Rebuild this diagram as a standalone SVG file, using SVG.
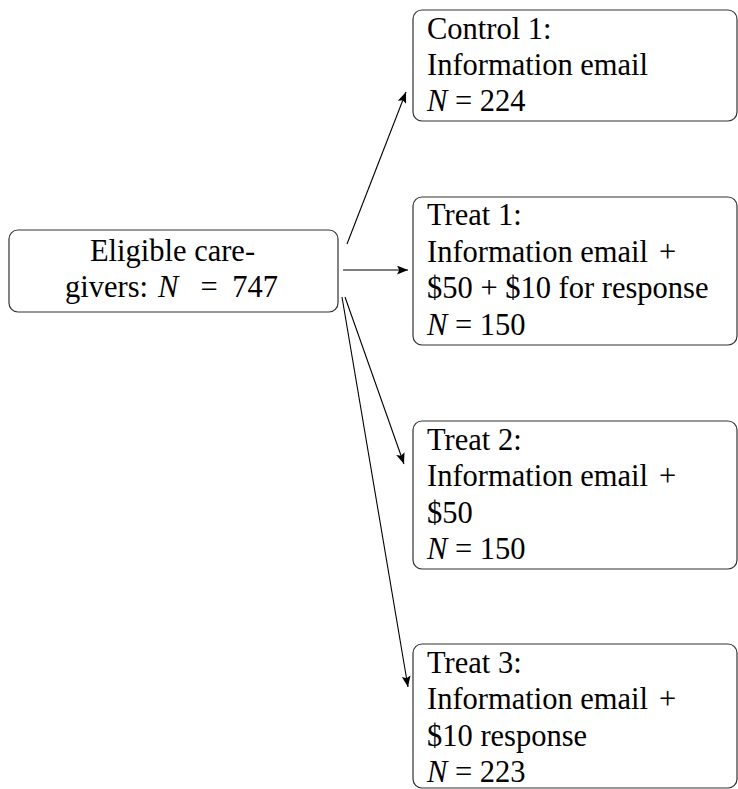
<svg xmlns="http://www.w3.org/2000/svg" width="738" height="789" viewBox="0 0 738 789">
<defs>
<marker id="ah" viewBox="0 0 10 8" refX="10" refY="4" markerWidth="11" markerHeight="9" markerUnits="userSpaceOnUse" orient="auto">
<path d="M0,0 L10,4 L0,8 L2,4 Z" fill="#000"/>
</marker>
<style>
.box{fill:#fff;stroke:#333;stroke-width:1.2}
.t{font-family:'Liberation Serif','DejaVu Serif',serif;font-size:30.5px;fill:#000}
.i{font-style:italic}
.c{stroke:#000;stroke-width:1.1;fill:none;marker-end:url(#ah)}
</style>
</defs>
<g id="connectors">
<line class="c" x1="347" y1="244" x2="406" y2="92"/>
<line class="c" x1="343" y1="270" x2="408" y2="270"/>
<line class="c" x1="345" y1="297" x2="404" y2="464"/>
<line class="c" x1="342" y1="297" x2="408" y2="687"/>
</g>
<g id="eligible">
<rect class="box" x="9" y="230" width="329" height="82" rx="9"/>
<text class="t" x="172.5" y="261" text-anchor="middle">Eligible care-</text>
<text class="t" x="65" y="297">givers:</text>
<text class="t i" x="158" y="297">N</text>
<text class="t" x="209" y="297" text-anchor="middle">=</text>
<text class="t" x="278" y="297" text-anchor="end">747</text>
</g>
<g id="control1">
<rect class="box" x="413" y="10" width="324" height="111" rx="9"/>
<text class="t" x="427" y="39">Control 1:</text>
<text class="t" x="427" y="75">Information email</text>
<text class="t" x="427" y="111"><tspan class="i">N</tspan> = 224</text>
</g>
<g id="treat1">
<rect class="box" x="413" y="197" width="324" height="148" rx="9"/>
<text class="t" x="427" y="225">Treat 1:</text>
<text class="t" x="427" y="262">Information email <tspan x="659">+</tspan></text>
<text class="t" x="427" y="298">$50 + $10 for response</text>
<text class="t" x="427" y="335"><tspan class="i">N</tspan> = 150</text>
</g>
<g id="treat2">
<rect class="box" x="413" y="421" width="324" height="148" rx="9"/>
<text class="t" x="427" y="450">Treat 2:</text>
<text class="t" x="427" y="486">Information email <tspan x="659">+</tspan></text>
<text class="t" x="427" y="523">$50</text>
<text class="t" x="427" y="559"><tspan class="i">N</tspan> = 150</text>
</g>
<g id="treat3">
<rect class="box" x="413" y="644" width="324" height="144" rx="9"/>
<text class="t" x="427" y="673">Treat 3:</text>
<text class="t" x="427" y="709">Information email <tspan x="659">+</tspan></text>
<text class="t" x="427" y="746">$10 response</text>
<text class="t" x="427" y="782"><tspan class="i">N</tspan> = 223</text>
</g>
</svg>
